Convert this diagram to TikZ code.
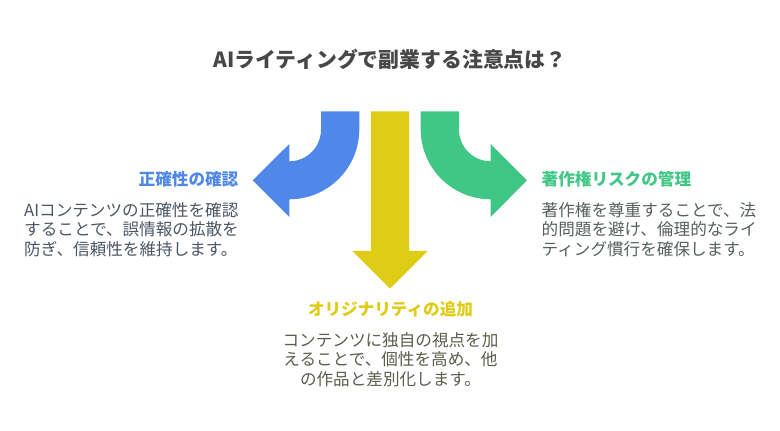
\documentclass[tikz,border=0pt]{standalone}
\usepackage{fontspec}
\setmainfont{Noto Sans CJK JP}
\definecolor{bluearrow}{HTML}{4F88E8}
\definecolor{yellowarrow}{HTML}{E0CC14}
\definecolor{greenarrow}{HTML}{40C785}
\definecolor{bluetext}{HTML}{4B5563}
\definecolor{yellowtext}{HTML}{5C5B4C}
\definecolor{greentext}{HTML}{56605B}
\tikzset{
headtext/.style={inner sep=0pt,font=\fontsize{16.6}{19.6}\selectfont\bfseries},
bodytext/.style={inner sep=0pt,font=\fontsize{16.6}{19.6}\selectfont},
}
\begin{document}
\begin{tikzpicture}[x=1pt,y=1pt]
\useasboundingbox(0,0)rectangle(780,431);
\node[inner sep=0pt,text=black!72,font=\fontsize{20.85}{24}\selectfont\bfseries](title)at(390,371.5){AIライティングで副業する注意点は？};
% arrows
\fill[bluearrow](321,319.7)--++(38.3,0)--++(0,-18)arc[start angle=0,end angle=-90,radius=70pt]--(289.3,214)--(252.7,250.7)--(289.3,287)--(289.3,269.7)arc[start angle=-90,end angle=0,radius=31.7pt]--cycle;
\fill[yellowarrow](371,319.7)--++(38,0)--++(0,-139.7)--++(18.7,0)--(390,142.3)--(352.3,180)--++(18.7,0)--cycle;
\fill[greenarrow](459,319.7)--++(-38.3,0)--++(0,-18)arc[start angle=180,end angle=270,radius=70pt]--(490.7,214)--(527,250.7)--(490.7,287)--(490.7,269.7)arc[start angle=270,end angle=180,radius=31.7pt]--cycle;
% left
\node[headtext,text=bluearrow,anchor=east](checkhead)at(238.5,251.5){正確性の確認};
\node[bodytext,text=bluetext,anchor=north west,align=left](checkbody)at(24,229){AIコンテンツの正確性を確認\\することで、誤情報の拡散を\\防ぎ、信頼性を維持します。};
% right
\node[headtext,text=greenarrow,anchor=west](copyhead)at(541.5,251.5){著作権リスクの管理};
\node[bodytext,text=greentext,anchor=north west,align=left](copybody)at(541.5,229){著作権を尊重することで、法\\的問題を避け、倫理的なライ\\ティング慣行を確保します。};
% bottom
\node[headtext,text=yellowarrow](originhead)at(390.5,122){オリジナリティの追加};
\node[bodytext,text=yellowtext,anchor=north,align=center](originbody)at(390.5,99){コンテンツに独自の視点を加\\えることで、個性を高め、他\\の作品と差別化します。};
\end{tikzpicture}
\end{document}
